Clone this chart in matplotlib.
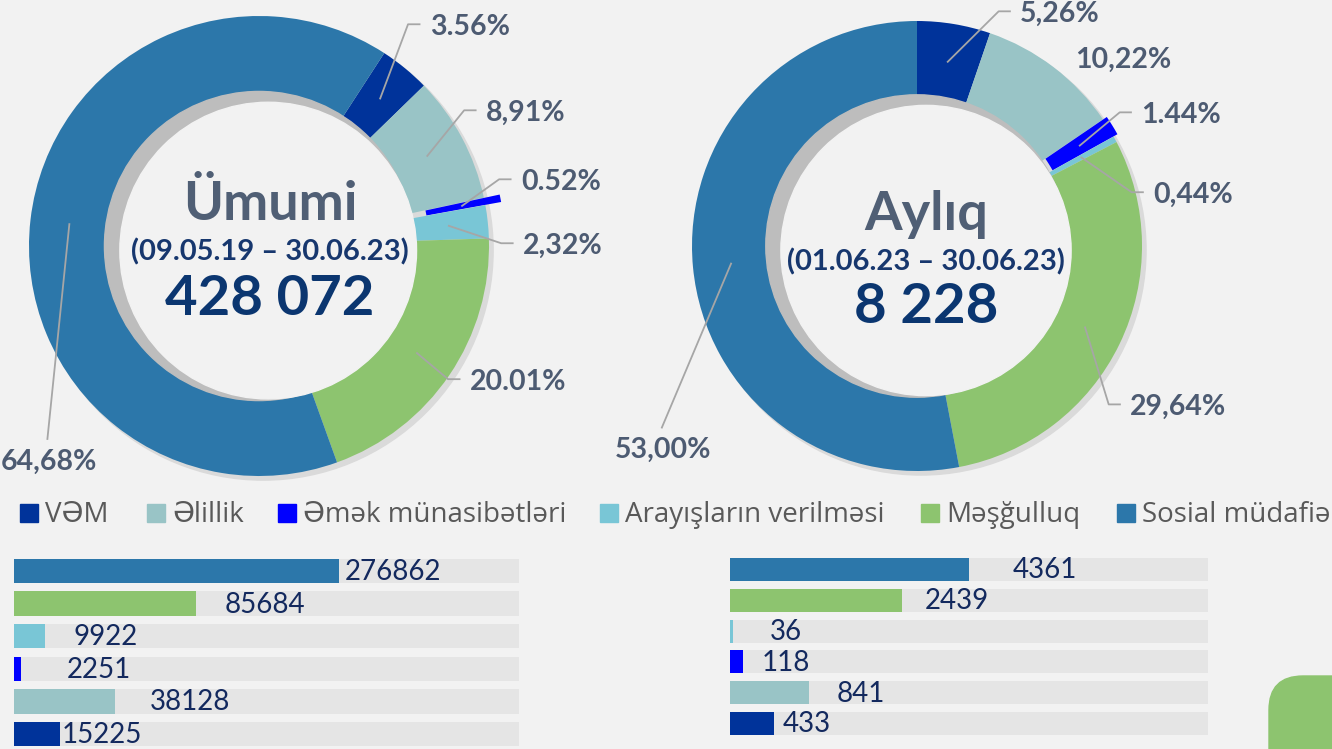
import numpy as np
import matplotlib
matplotlib.use("Agg")
import matplotlib.pyplot as plt
from matplotlib.patches import Circle, Rectangle, FancyBboxPatch
from matplotlib.transforms import IdentityTransform

plt.rcParams['font.family'] = ['Lato', 'DejaVu Sans']

# data
categories = ['VƏM', 'Əlillik', 'Əmək münasibətləri', 'Arayışların verilməsi',
              'Məşğulluq', 'Sosial müdafiə']
colors = ['#00339a', '#99c4c6', '#0000ff', '#79c6d6', '#8dc46f', '#2c77aa']

# counts in bar order (Sosial müdafiə ... VƏM)
left_counts = [276862, 85684, 9922, 2251, 38128, 15225]
right_counts = [4361, 2439, 36, 118, 841, 433]
# bar fill (share of the grey track) as drawn in the picture
left_bar_fill = [0.644, 0.360, 0.061, 0.014, 0.200, 0.091]
right_bar_fill = [0.50, 0.36, 0.006, 0.027, 0.165, 0.092]

left_pct_labels = ['3.56%', '8,91%', '0.52%', '2,32%', '20.01%', '64,68%']
right_pct_labels = ['5,26%', '10,22%', '1.44%', '0,44%', '29,64%', '53,00%']

left_title = 'Ümumi'
left_period = '(09.05.19 – 30.06.23)'
left_total = '428 072'
right_title = 'Aylıq'
right_period = '(01.06.23 – 30.06.23)'
right_total = '8 228'

W, H = 1332, 749
fig = plt.figure(figsize=(W / 100, H / 100), dpi=100, facecolor='#f2f2f2')

lbl_color = '#4d5b72'
line_color = '#a6a6a6'


def px_axes(x0, y0, x1, y1):
    # pixel box (top-left origin) -> figure fraction
    return [x0 / W, 1 - y1 / H, (x1 - x0) / W, (y1 - y0) / H]


def donut(cx, cy, R, counts, start, explode_amt, pct_labels, label_pos, leader,
          title, period, total, text_dx, baselines):
    half = 1.6 * R
    ax = fig.add_axes(px_axes(cx - half, cy - half, cx + half, cy + half))
    ax.set_facecolor('none')
    vals = counts[::-1]
    explode = [0, 0, explode_amt, 0, 0, 0]
    # soft outer shadow
    ax.add_patch(Circle((0.018, -0.018), 1.0, color='#dadada', zorder=0))
    wedges, _ = ax.pie(vals, colors=colors, startangle=start, counterclock=False,
                       explode=explode, wedgeprops=dict(width=0.33, linewidth=0))
    ax.add_patch(Circle((0, 0), 0.672, color='#bdbdbd', zorder=3))
    ax.add_patch(Circle((0.04, -0.02), 0.645, color='#f2f2f2', zorder=3))
    ax.set_xlim(-1.6, 1.6)
    ax.set_ylim(-1.6, 1.6)
    ax.axis('off')

    for w, txt, (tx, ty), kind in zip(wedges, pct_labels, label_pos, leader):
        mid = np.deg2rad((w.theta1 + w.theta2) / 2)
        ax0 = w.center[0] + 0.83 * np.cos(mid)
        ay0 = w.center[1] + 0.83 * np.sin(mid)
        if kind == 'elbow':
            ax.plot([ax0, tx - 0.095, tx - 0.045], [ay0, ty + 0.012, ty + 0.012],
                    color=line_color, lw=1.3, zorder=4, clip_on=False)
            ax.text(tx, ty, txt, ha='left', va='center', fontsize=20.5,
                    fontweight='bold', color=lbl_color, zorder=5)
        elif kind == 'straight':
            ax.plot([ax0, tx - 0.005], [ay0, ty + 0.1], color=line_color, lw=1.3,
                    zorder=4, clip_on=False)
            ax.text(tx, ty, txt, ha='center', va='center', fontsize=20.5,
                    fontweight='bold', color=lbl_color, zorder=5)
        else:
            ax.text(tx, ty, txt, ha='left', va='center', fontsize=20.5,
                    fontweight='bold', color=lbl_color, zorder=5)

    ax.text(text_dx, baselines[0], title, ha='center', va='baseline', fontsize=39,
            fontweight='bold', color='#505f75', zorder=6)
    ax.text(text_dx, baselines[1], period, ha='center', va='baseline', fontsize=21,
            fontweight='bold', color='#17376e', zorder=6)
    ax.text(text_dx, baselines[2], total, ha='center', va='baseline', fontsize=40.5,
            fontweight='bold', color='#0b3670', zorder=6)


donut(259, 246, 230, left_counts, 57, 0.07, left_pct_labels,
      [(0.743, 0.952), (0.987, 0.578), (1.139, 0.278), (1.148, 0.0),
       (0.917, -0.591), (-0.915, -0.939)],
      ['elbow', 'elbow', 'elbow', 'elbow', 'elbow', 'straight'],
      left_title, left_period, left_total, 0.048, [0.113, -0.061, -0.3])

donut(917, 246, 225, right_counts, 90, 0.02, right_pct_labels,
      [(0.458, 1.031), (0.702, 0.827), (0.996, 0.582), (1.049, 0.227),
       (0.947, -0.716), (-1.129, -0.907)],
      ['elbow', None, 'elbow', 'elbow', 'elbow', 'straight'],
      right_title, right_period, right_total, 0.04, [0.071, -0.107, -0.342])

# legend row
legend_x = [20, 147, 278, 600, 921, 1117]
for x, name, c in zip(legend_x, categories, colors):
    fig.add_artist(Rectangle((x / W, 1 - 522 / H), 18 / W, 18 / H, color=c,
                             transform=fig.transFigure))
    fig.text((x + 25) / W, 1 - 522 / H, name, ha='left', va='baseline',
             fontsize=20, color='#595959', family=['Open Sans', 'DejaVu Sans'])

# bar panels
bar_colors = colors[::-1]


def bars(x0, x1, yc0, pitch, fills, counts, label_x, bar_h):
    ax = fig.add_axes(px_axes(x0, yc0 - pitch / 2, x1, yc0 + 5.5 * pitch))
    ax.set_facecolor('none')
    ypos = np.arange(len(fills))
    ax.barh(ypos, [1.0] * len(fills), height=bar_h, color='#e5e5e5', zorder=1)
    ax.barh(ypos, fills, height=bar_h, color=bar_colors, zorder=2)
    for y, cnt, lx in zip(ypos, counts, label_x):
        ax.text(lx, y + 0.03, str(cnt), ha='left', va='center', fontsize=20,
                color='#13295e', zorder=3)
    ax.set_xlim(0, 1)
    ax.set_ylim(len(fills) - 0.5, -0.5)
    ax.axis('off')


bars(14, 519, 571, 32.6, left_bar_fill, left_counts,
     [0.655, 0.418, 0.117, 0.105, 0.269, 0.094], 0.75)
bars(730, 1208, 569.5, 30.8, right_bar_fill, right_counts,
     [0.592, 0.408, 0.084, 0.067, 0.224, 0.111], 0.75)

# decorative corner shape
fig.add_artist(FancyBboxPatch((1269, -60), 140, 60 + (H - 676),
                              boxstyle='round,pad=0,rounding_size=34',
                              color='#8dc46f', transform=IdentityTransform()))

fig.savefig('out.png', dpi=100, facecolor=fig.get_facecolor())
